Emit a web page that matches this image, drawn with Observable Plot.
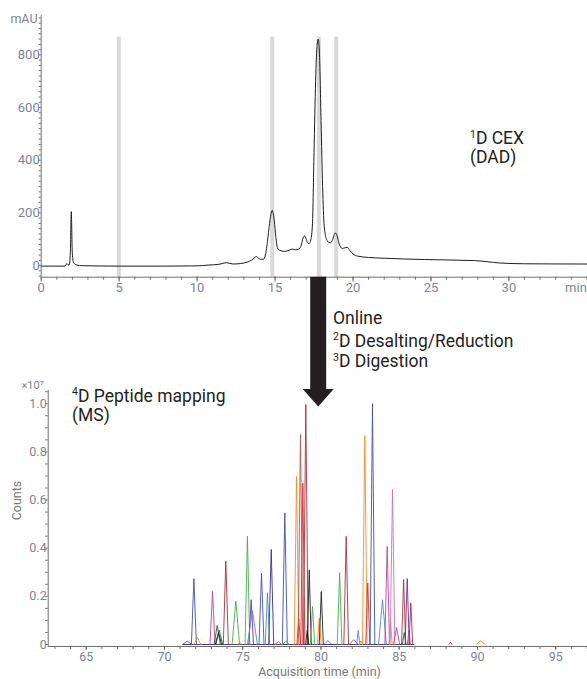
<!DOCTYPE html>
<html><head><meta charset="utf-8">
<script src="https://cdn.jsdelivr.net/npm/d3@7"></script>
<script src="https://cdn.jsdelivr.net/npm/@observablehq/plot@0.6"></script>
<style>
html,body{margin:0;padding:0;background:#fff;}
#wrap{position:relative;width:587px;height:679px;overflow:hidden;font-family:Roboto,sans-serif;}
#top{position:absolute;left:0;top:0;}
#bottom{position:absolute;left:0;top:300px;}
#overlay{position:absolute;left:0;top:0;pointer-events:none;}
</style></head><body>
<div id="wrap"><div id="top"></div><div id="bottom"></div><div id="overlay"></div></div>
<script>
// ---------- 1D CEX (DAD) chromatogram ----------
const cexTime = [0, 1.5, 1.58, 1.65, 1.72, 1.8, 1.87, 1.93, 1.99, 2.06, 2.15, 2.3, 2.6, 3.2, 5, 8, 10, 10.7, 11.4, 11.9, 12.3, 12.8, 13.2, 13.5, 13.8, 14.05, 14.25, 14.4, 14.55, 14.68, 14.82, 14.95, 15.05, 15.15, 15.3, 15.6, 15.9, 16.1, 16.3, 16.5, 16.65, 16.8, 16.89, 17.0, 17.1, 17.17, 17.3, 17.4, 17.5, 17.6, 17.7, 17.77, 17.85, 17.95, 18.05, 18.15, 18.3, 18.45, 18.56, 18.7, 18.8, 18.88, 18.97, 19.1, 19.31, 19.5, 19.63, 19.8, 20.0, 20.3, 21, 22, 24.6, 27.8, 28.6, 29.4, 31, 35.04];
const cexAbs = [-2, -2, 2, 8, 3, 3, 50, 205, 55, 14, 6, 2, 0, -1, -2, -2, -1, 2, 5, 11, 6, 8, 13, 21, 34, 24, 24, 45, 110, 175, 210, 170, 110, 68, 58, 54, 58, 63, 60, 62, 72, 105, 113, 100, 85, 83, 100, 160, 430, 700, 840, 860, 800, 550, 300, 150, 100, 88, 87, 100, 118, 124, 115, 85, 65, 68, 69, 58, 44, 36, 31, 28, 23, 19, 15, 10, 7, 6];
const fractionTimes = [4.98, 14.82, 17.81, 18.92];
const cexXTicks = [0, 5, 10, 15, 20, 25, 30];
const cexYTicks = [0, 200, 400, 600, 800];
const collectedTime = 17.8;

// ---------- 4D peptide mapping (MS) ----------
const peakTime   = [71.45, 71.88, 72.1, 73.07, 73.37, 73.5, 73.45, 73.92, 74.56, 74.8, 75.3, 75.54, 75.62, 76.2, 76.58, 76.82, 77.27, 77.69, 77.76, 78.44, 78.58, 78.69, 78.84, 79.03, 79.12, 79.25, 79.46, 79.89, 80.02, 80.44, 81.19, 81.61, 82.1, 82.38, 82.55, 82.8, 82.99, 83.29, 83.93, 84.23, 84.45, 84.57, 84.83, 85.28, 85.32, 85.51, 85.62, 85.74, 88.28, 90.2];
const peakHeight = [0.014, 0.273, 0.03, 0.22, 0.079, 0.06, 0.05, 0.346, 0.18, 0.01, 0.45, 0.186, 0.141, 0.296, 0.215, 0.395, 0.012, 0.547, 0.015, 0.698, 0.107, 0.872, 0.67, 0.997, 0.06, 0.31, 0.158, 0.11, 0.22, 0.016, 0.298, 0.449, 0.02, 0.058, 0.015, 0.868, 0.255, 1.0, 0.186, 0.407, 0.09, 0.644, 0.07, 0.27, 0.05, 0.274, 0.06, 0.173, 0.01, 0.015];
const peakWidth  = [0.3, 0.16, 0.22, 0.16, 0.2, 0.22, 0.2, 0.16, 0.24, 0.15, 0.15, 0.15, 0.32, 0.16, 0.14, 0.16, 0.2, 0.16, 0.2, 0.15, 0.12, 0.15, 0.13, 0.15, 0.1, 0.13, 0.14, 0.12, 0.13, 0.25, 0.15, 0.15, 0.3, 0.1, 0.1, 0.15, 0.13, 0.15, 0.25, 0.15, 0.1, 0.15, 0.2, 0.13, 0.12, 0.13, 0.1, 0.12, 0.1, 0.3];
const peakSeries = ["blue","blue","orange","magenta","dkgreen","dkgreen","black","maroon","green","orange","green","purple","sky","blue","sky","navy","magenta","blue","green","orange","red","rose","red","maroon","black","black","green","orange","black","magenta","green","maroon","magenta","sky","orange","orange","red","blue","sky","magenta","orange","pink","magenta","maroon","dkgreen","purple","magenta","maroon","red","orange"];
const seriesNames  = ["blue","navy","sky","orange","red","maroon","rose","green","dkgreen","magenta","pink","purple","black"];
const seriesColors = ["#4050b5","#33309a","#4a8ad4","#ff8a1c","#e42a2a","#a8323a","#c0504f","#43b04a","#1e6a34","#c040a0","#d070c0","#70309a","#222222"];
const msXTicks = [65, 70, 75, 80, 85, 90, 95];
const msYTicks = [0, 0.2, 0.4, 0.6, 0.8, 1.0];
const msBaseline = [71.2, 86.0];

const axisColor = "#6e6e6e";
const labelColor = "#7d8594";
const font = "Roboto, 'Noto Sans', sans-serif";

// ---- top plot ----
const cex = cexTime.map((t, i) => ({t, v: cexAbs[i]}));
const topPlot = Plot.plot({
  width: 587, height: 300,
  marginTop: 15, marginBottom: 23.3, marginLeft: 40.7, marginRight: 0,
  x: {domain: [0, 35.04], label: null},
  y: {domain: [-44, 949.5], label: null},
  style: {fontFamily: font, background: "white", overflow: "visible"},
  marks: [
    Plot.ruleX(fractionTimes, {y1: -44, y2: 868, stroke: "#d9d9d9", strokeWidth: 4}),
    Plot.line(cex, {x: "t", y: "v", stroke: "#1e1e1e", strokeWidth: 1, curve: "monotone-x"}),
    Plot.axisX(d3.range(0, 36), {tickSize: 3, tickFormat: () => "", stroke: axisColor, label: null}),
    Plot.axisX(cexXTicks, {tickSize: 5, tickPadding: 1, fontSize: 13, fill: labelColor, stroke: axisColor, label: null}),
    Plot.axisY(d3.range(-40, 941, 20), {tickSize: 2, tickFormat: () => "", stroke: axisColor, label: null}),
    Plot.axisY(cexYTicks, {tickSize: 0, tickPadding: 1.5, fontSize: 13, fill: labelColor, label: null}),
    Plot.ruleY([-44], {stroke: axisColor}),
    Plot.ruleX([0], {stroke: axisColor}),
    Plot.text(["mAU"], {frameAnchor: "top-left", textAnchor: "end", lineAnchor: "middle", dx: -3.7, dy: 3.3, fontSize: 12.5, fill: labelColor}),
    Plot.text(["min"], {x: 34.3, y: -44, lineAnchor: "top", dy: 6, fontSize: 13, fill: labelColor})
  ]
});
document.getElementById("top").append(topPlot);

// ---- bottom plot ----
const peakPts = [];
peakTime.forEach((t, i) => {
  const s = peakSeries[i];
  peakPts.push({id: i, s, t: t - peakWidth[i], c: 0});
  peakPts.push({id: i, s, t: t, c: peakHeight[i]});
  peakPts.push({id: i, s, t: t + peakWidth[i], c: 0});
});
const msPlot = Plot.plot({
  width: 587, height: 379,
  marginTop: 90, marginBottom: 33, marginLeft: 47.7, marginRight: 0,
  x: {domain: [62.57, 97.03], label: null},
  y: {domain: [-0.0083, 1.055], label: null},
  color: {domain: seriesNames, range: seriesColors},
  style: {fontFamily: font, background: "white", overflow: "visible"},
  marks: [
    Plot.ruleY([0], {x1: msBaseline[0], x2: msBaseline[1], stroke: "#4b3a86", strokeWidth: 1}),
    Plot.line(peakPts, {x: "t", y: "c", z: "id", stroke: "s", strokeWidth: 1, strokeOpacity: 0.9}),
    Plot.axisX(d3.range(63, 98), {tickSize: 3, tickFormat: () => "", stroke: axisColor, label: null}),
    Plot.axisX(msXTicks, {tickSize: 4, tickPadding: 1.5, fontSize: 12.5, fill: labelColor, stroke: axisColor, label: null}),
    Plot.axisY(d3.range(0, 1.06, 0.05), {tickSize: 2.5, tickFormat: () => "", stroke: axisColor, label: null}),
    Plot.axisY(msYTicks, {tickSize: 0, tickPadding: 1.5, fontSize: 12.5, fill: labelColor, label: null, tickFormat: d => d === 0 ? "0" : d.toFixed(1)}),
    Plot.ruleY([-0.0083], {stroke: axisColor}),
    Plot.ruleX([62.57], {stroke: axisColor}),
    Plot.text(["×10⁷"], {frameAnchor: "top-left", textAnchor: "end", lineAnchor: "middle", dx: -4.5, dy: -5, fontSize: 11, fill: labelColor}),
    Plot.text(["Counts"], {frameAnchor: "left", rotate: -90, textAnchor: "middle", lineAnchor: "middle", dx: -31, dy: -18, fontSize: 12.5, fill: "#777"}),
    Plot.text(["Acquisition time (min)"], {frameAnchor: "bottom", textAnchor: "middle", lineAnchor: "middle", dx: 1.7, dy: 25.7, fontSize: 12.5, fill: "#777"})
  ]
});
document.getElementById("bottom").append(msPlot);

// ---- overlay: arrow and annotations ----
const xs = topPlot.scale("x").apply(collectedTime);
const axisBottom = topPlot.scale("y").apply(-44);
const svg = d3.create("svg").attr("width", 587).attr("height", 679)
  .style("font-family", font).style("overflow", "visible");
const shaftHalf = 8, headHalf = 15.5, headBase = 389, tip = 406.5;
svg.append("polygon")
  .attr("points", [
    [xs - shaftHalf, axisBottom], [xs + shaftHalf, axisBottom], [xs + shaftHalf, headBase],
    [xs + headHalf, headBase], [xs, tip], [xs - headHalf, headBase], [xs - shaftHalf, headBase]
  ].map(p => p.join(",")).join(" "))
  .attr("fill", "#231f20");

function label(x, y, sup, text) {
  const t = svg.append("text").attr("x", x).attr("y", y).attr("font-size", 17.5).attr("fill", "#231f20");
  if (sup) {
    t.append("tspan").attr("font-size", 10.5).attr("dy", -6.5).text(sup);
    t.append("tspan").attr("dy", 6.5).text(text);
  } else {
    t.text(text);
  }
}
label(470, 144, "1", "D CEX");
label(470, 162.5, null, "(DAD)");
label(333, 324, null, "Online");
label(333, 346.5, "2", "D Desalting/Reduction");
label(333, 367, "3", "D Digestion");
label(72, 401.5, "4", "D Peptide mapping");
label(72, 421, null, "(MS)");
document.getElementById("overlay").append(svg.node());
</script>
</body></html>
